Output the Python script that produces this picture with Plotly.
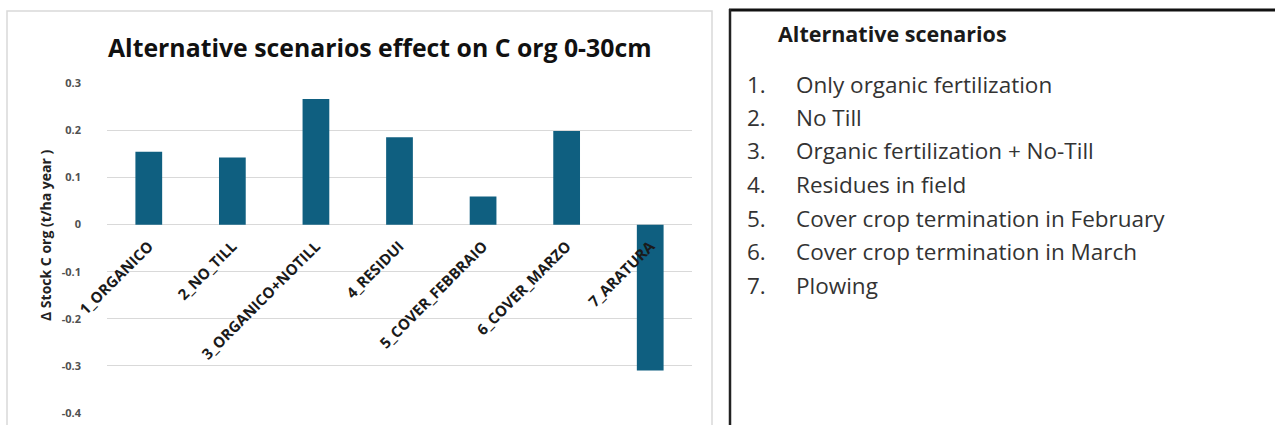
import plotly.graph_objects as go

categories = ["1_ORGANICO", "2_NO_TILL", "3_ORGANICO+NOTILL", "4_RESIDUI",
              "5_COVER_FEBBRAIO", "6_COVER_MARZO", "7_ARATURA"]
values = [0.155, 0.143, 0.267, 0.186, 0.060, 0.199, -0.310]
ytick_vals = [0.3, 0.2, 0.1, 0, -0.1, -0.2, -0.3, -0.4]
ytick_text = ["0.3", "0.2", "0.1", "0", "-0.1", "-0.2", "-0.3", "-0.4"]
chart_title = "Alternative scenarios effect on C org 0-30cm"
y_title = "\u0394 Stock C org (t/ha year )"
legend_title = "Alternative scenarios"
legend_items = ["Only organic fertilization", "No Till", "Organic fertilization + No-Till",
                "Residues in field", "Cover crop termination in February",
                "Cover crop termination in March", "Plowing"]

W, H = 1275, 425
FONT = "Open Sans"
px = lambda x: x / W
py = lambda y: 1 - y / H

ymin, ymax = -0.4, 0.3
ydom = [py(412.7), py(83.6)]
xdom = [px(107), px(692)]
zero_pos = ydom[0] + (0 - ymin) / (ymax - ymin) * (ydom[1] - ydom[0])

fig = go.Figure()
fig.add_trace(go.Bar(x=categories, y=values, width=0.32,
                     marker=dict(color="#0f5f80", line=dict(width=0)),
                     hoverinfo="x+y"))

fig.update_layout(
    width=W, height=H, margin=dict(l=0, r=0, t=0, b=0),
    paper_bgcolor="white", plot_bgcolor="white", showlegend=False,
    font=dict(family=FONT, color="#222"),
    xaxis=dict(domain=xdom, anchor="free", position=zero_pos, tickangle=-45,
               showgrid=False, showline=False, zeroline=False, ticks="",
               ticklabelstandoff=9,
               tickfont=dict(family=FONT, size=15, color="#1a1a1a", weight="bold"),
               automargin=False, range=[-0.5, 6.5]),
    yaxis=dict(domain=ydom, range=[ymin, ymax], tickvals=ytick_vals, ticktext=ytick_text,
               showgrid=True, gridcolor="#d9d9d9", gridwidth=1, zeroline=False,
               showline=False, ticks="", ticklabelstandoff=25,
               tickfont=dict(family=FONT, size=11, color="#505050", weight="bold"),
               automargin=False),
)

shapes = [
    dict(type="rect", xref="paper", yref="paper", x0=px(7), x1=px(712), y0=py(440), y1=py(11),
         line=dict(color="#d9d9d9", width=1.5), fillcolor="rgba(0,0,0,0)", layer="below"),
    dict(type="line", xref="paper", yref="paper", x0=px(729), x1=px(1280), y0=py(10), y1=py(10),
         line=dict(color="#111", width=3)),
    dict(type="line", xref="paper", yref="paper", x0=px(730), x1=px(730), y0=py(9), y1=py(440),
         line=dict(color="#222", width=2.5)),
]
annotations = [
    dict(text=chart_title, xref="paper", yref="paper", x=px(380), y=py(47),
         xanchor="center", yanchor="middle", showarrow=False,
         font=dict(family=FONT, size=24.8, color="#111", weight="bold")),
    dict(text=y_title, xref="paper", yref="paper", x=px(45), y=py(235), textangle=-90,
         xanchor="center", yanchor="middle", showarrow=False,
         font=dict(family=FONT, size=14, color="#222", weight="bold")),
    dict(text=legend_title, xref="paper", yref="paper", x=px(776), y=py(34),
         xanchor="left", yanchor="middle", showarrow=False,
         font=dict(family=FONT, size=21.5, color="#1a1a1a", weight="bold")),
]
for i, item in enumerate(legend_items):
    yc = 84 + i * 33.5
    annotations.append(dict(text=f"{i+1}.", xref="paper", yref="paper", x=px(745), y=py(yc),
                            xanchor="left", yanchor="middle", showarrow=False,
                            font=dict(family=FONT, size=22.5, color="#333")))
    annotations.append(dict(text=item, xref="paper", yref="paper", x=px(794), y=py(yc),
                            xanchor="left", yanchor="middle", showarrow=False,
                            font=dict(family=FONT, size=22.5, color="#333")))
fig.update_layout(shapes=shapes, annotations=annotations)
fig.write_html("out.html")
